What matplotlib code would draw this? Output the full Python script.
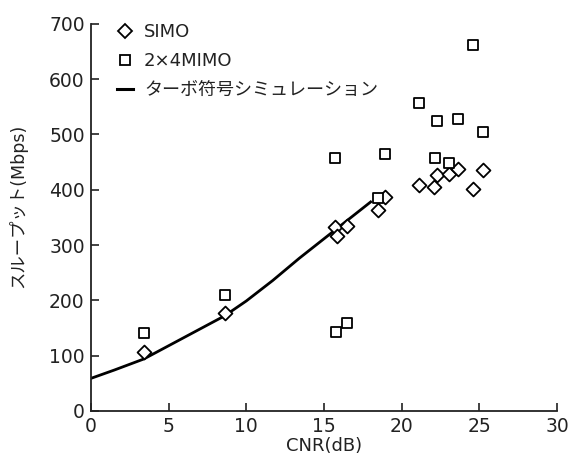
import matplotlib
matplotlib.use("Agg")
import matplotlib.pyplot as plt
from matplotlib.lines import Line2D

plt.rcParams['font.family'] = ['DejaVu Sans', 'Noto Sans CJK JP']

simo_x = [3.4, 8.6, 15.7, 15.85, 16.45, 18.45, 18.9, 21.1, 22.1, 22.3, 23.05, 23.6, 24.6, 25.2]
simo_y = [106, 177, 332, 317, 335, 363, 387, 408, 405, 426, 429, 437, 402, 435]

mimo_x = [3.4, 8.6, 15.7, 15.75, 16.5, 18.5, 18.9, 21.1, 22.15, 22.25, 23.05, 23.6, 24.6, 25.2]
mimo_y = [141, 210, 457, 143, 159, 385, 464, 557, 458, 525, 449, 528, 662, 505]

sim_x = [0, 1.5, 3.4, 5, 6.8, 8.6, 10, 11.7, 13.4, 15.7, 18.0]
sim_y = [59, 74, 94, 118, 145, 172, 199, 236, 276, 327, 378]

labels = ['SIMO', '2×4MIMO', 'ターボ符号シミュレーション']

ink = '#222222'
fig = plt.figure(figsize=(5.72, 4.59), dpi=100)
ax = fig.add_axes([0.159, 0.1046, 0.815, 0.8434])

ax.plot(sim_x, sim_y, color='black', lw=2.0, zorder=2)
ax.scatter(simo_x, simo_y, marker='D', s=50, facecolor='white', edgecolor='black', linewidths=1.3, zorder=3)
ax.scatter(mimo_x, mimo_y, marker='s', s=46, facecolor='white', edgecolor='black', linewidths=1.3, zorder=3)

ax.set_xlim(0, 30)
ax.set_ylim(0, 700)
ax.set_xticks([0, 5, 10, 15, 20, 25, 30])
ax.set_yticks([0, 100, 200, 300, 400, 500, 600, 700])
for s in ['top', 'right']:
    ax.spines[s].set_visible(False)
for s in ['left', 'bottom']:
    ax.spines[s].set_linewidth(1.3)
    ax.spines[s].set_color(ink)
ax.tick_params(direction='in', length=6, width=1.2, labelsize=13.5, colors=ink)
ax.tick_params(axis='x', pad=4)
ax.tick_params(axis='y', pad=4.5)
ax.set_xlabel('CNR(dB)', fontsize=13, color=ink)
ax.set_ylabel('スループット(Mbps)', fontsize=12.5, color=ink)
ax.xaxis.set_label_coords(0.5, -0.066)
ax.yaxis.set_label_coords(-0.137, 0.53)

handles = [
    Line2D([], [], marker='D', ls='none', markersize=7, markerfacecolor='white', markeredgecolor='black', markeredgewidth=1.3),
    Line2D([], [], marker='s', ls='none', markersize=6.8, markerfacecolor='white', markeredgecolor='black', markeredgewidth=1.3),
    Line2D([], [], color='black', lw=2.2),
]
leg = ax.legend(handles, labels, loc='upper left', bbox_to_anchor=(0.04, 1.02), frameon=False,
                fontsize=13, handlelength=0.9, handletextpad=0.6, labelspacing=0.6, borderaxespad=0)
for t in leg.get_texts():
    t.set_color(ink)

fig.savefig('out.png', dpi=100)
